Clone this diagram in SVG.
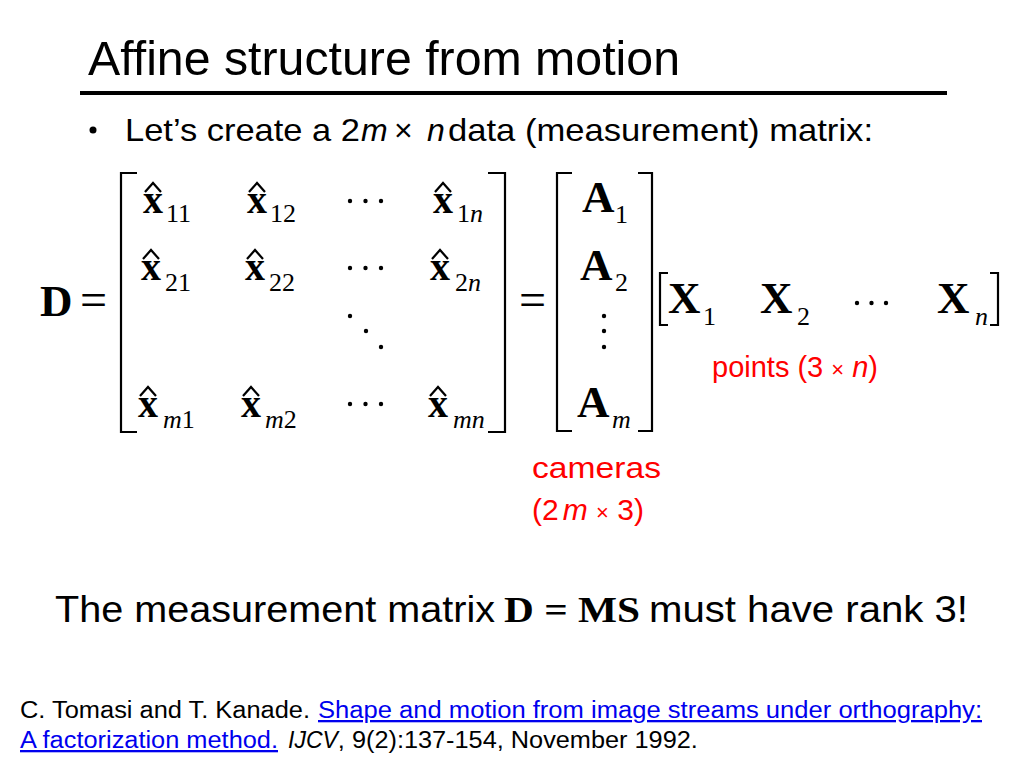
<svg xmlns="http://www.w3.org/2000/svg" width="1024" height="768" viewBox="0 0 1024 768">
<defs>
<path id="hat" d="M-8,9 L0,0 L8,9" fill="none" stroke="#000" stroke-width="2.2" stroke-linejoin="miter"/>
</defs>
<style>
.sans{font-family:"Liberation Sans",Arial,sans-serif;}
.ser{font-family:"Liberation Serif","Times New Roman",serif;}
.bx{font-family:"Liberation Serif","Times New Roman",serif;font-weight:bold;font-size:40px;}
.bc{font-family:"Liberation Serif","Times New Roman",serif;font-weight:bold;font-size:45px;}
.sub{font-family:"Liberation Serif","Times New Roman",serif;font-size:26px;}
.it{font-style:italic;}
.br{fill:none;stroke:#000;stroke-width:2.2;}
.red{fill:#FF0000;}
.link{fill:#0000EE;text-decoration:underline;}
</style>
<rect width="1024" height="768" fill="#fff"/>
<g id="title">
<text class="sans" x="88" y="75" font-size="49" textLength="592" lengthAdjust="spacingAndGlyphs">Affine structure from motion</text>
<rect x="80" y="91" width="867" height="4" fill="#000"/>
</g>
<g id="bullet">
<circle cx="93" cy="130" r="3.5" fill="#000"/>
<text class="sans" x="125" y="141" font-size="32"><tspan textLength="235" lengthAdjust="spacingAndGlyphs">Let’s create a 2</tspan><tspan class="it" x="361">m</tspan><tspan x="394">×</tspan><tspan class="it" x="427">n</tspan><tspan x="448" textLength="425" lengthAdjust="spacingAndGlyphs">data (measurement) matrix:</tspan></text>
</g>
<g id="matrix-D">
<text class="bc" x="40" y="316">D</text>
<text class="ser" x="80" y="316" font-size="48">=</text>
<path class="br" d="M137,173 H121 V432 H137"/>
<path class="br" d="M488,173 H505 V432 H488"/>
<!-- row 1 -->
<text class="bx" x="143" y="213">x</text><use href="#hat" x="153" y="183"/><text class="sub" x="166" y="222">11</text>
<text class="bx" x="247" y="213">x</text><use href="#hat" x="257" y="183"/><text class="sub" x="270" y="222">12</text>
<g fill="#000"><circle cx="350" cy="201" r="2.2"/><circle cx="365.5" cy="201" r="2.2"/><circle cx="381" cy="201" r="2.2"/></g>
<text class="bx" x="433" y="213">x</text><use href="#hat" x="443" y="183"/><text class="sub" x="457" y="222">1<tspan class="it">n</tspan></text>
<!-- row 2 -->
<text class="bx" x="141" y="280">x</text><use href="#hat" x="151" y="250"/><text class="sub" x="165" y="291">21</text>
<text class="bx" x="245" y="280">x</text><use href="#hat" x="255" y="250"/><text class="sub" x="269" y="291">22</text>
<g fill="#000"><circle cx="350" cy="268" r="2.2"/><circle cx="365.5" cy="268" r="2.2"/><circle cx="381" cy="268" r="2.2"/></g>
<text class="bx" x="430" y="280">x</text><use href="#hat" x="440" y="250"/><text class="sub" x="455" y="291">2<tspan class="it">n</tspan></text>
<!-- ddots -->
<g fill="#000"><circle cx="350" cy="316" r="2.2"/><circle cx="366" cy="331" r="2.2"/><circle cx="381" cy="347" r="2.2"/></g>
<!-- row m -->
<text class="bx" x="138" y="417">x</text><use href="#hat" x="148" y="387"/><text class="sub it" x="163" y="428">m<tspan font-style="normal">1</tspan></text>
<text class="bx" x="241" y="417">x</text><use href="#hat" x="251" y="387"/><text class="sub it" x="265" y="428">m<tspan font-style="normal">2</tspan></text>
<g fill="#000"><circle cx="350" cy="404" r="2.2"/><circle cx="365.5" cy="404" r="2.2"/><circle cx="381" cy="404" r="2.2"/></g>
<text class="bx" x="428" y="417">x</text><use href="#hat" x="438" y="387"/><text class="sub it" x="453" y="428">mn</text>
</g>
<g id="matrix-A">
<text class="ser" x="519" y="316" font-size="48">=</text>
<path class="br" d="M572,173 H557 V431 H572"/>
<path class="br" d="M638,173 H652 V431 H638"/>
<text class="bc" x="582" y="212">A</text><text class="sub" x="615" y="223">1</text>
<text class="bc" x="580" y="280">A</text><text class="sub" x="615" y="291">2</text>
<g fill="#000"><circle cx="604" cy="316" r="2.2"/><circle cx="604" cy="331" r="2.2"/><circle cx="604" cy="347" r="2.2"/></g>
<text class="bc" x="577" y="417">A</text><text class="sub it" x="612" y="428">m</text>
</g>
<g id="matrix-X">
<path class="br" d="M668,273 H660 V325 H668"/>
<path class="br" d="M990,273 H998 V325 H990"/>
<text class="bc" x="668" y="313">X</text><text class="sub" x="703" y="325">1</text>
<text class="bc" x="760" y="313">X</text><text class="sub" x="797" y="325">2</text>
<g fill="#000"><circle cx="857" cy="303" r="2.2"/><circle cx="871.5" cy="303" r="2.2"/><circle cx="886" cy="303" r="2.2"/></g>
<text class="bc" x="937" y="313">X</text><text class="sub it" x="975" y="325">n</text>
</g>
<g id="labels">
<text class="sans red" x="712" y="377" font-size="29">points (3 <tspan font-size="22">×</tspan> <tspan class="it">n</tspan>)</text>
<text class="sans red" x="532" y="478" font-size="30" textLength="129" lengthAdjust="spacingAndGlyphs">cameras</text>
<text class="sans red" x="532" y="520" font-size="30">(2<tspan class="it" dx="4">m</tspan> <tspan font-size="22">×</tspan> 3)</text>
</g>
<g id="statement">
<text class="sans" x="55" y="622" font-size="36"><tspan textLength="440" lengthAdjust="spacingAndGlyphs">The measurement matrix</tspan><tspan class="ser" font-weight="bold" x="504" textLength="136" lengthAdjust="spacingAndGlyphs">D = MS</tspan><tspan x="649" textLength="319" lengthAdjust="spacingAndGlyphs">must have rank 3!</tspan></text>
</g>
<g id="citation">
<text class="sans" x="20" y="718" font-size="23"><tspan textLength="290" lengthAdjust="spacingAndGlyphs">C. Tomasi and T. Kanade.</tspan><tspan class="link" x="318" textLength="664" lengthAdjust="spacingAndGlyphs">Shape and motion from image streams under orthography:</tspan></text>
<text class="sans" x="20" y="748" font-size="23"><tspan class="link" textLength="258" lengthAdjust="spacingAndGlyphs">A factorization method.</tspan><tspan class="it" x="288">IJCV</tspan><tspan textLength="360" lengthAdjust="spacingAndGlyphs">, 9(2):137-154, November 1992.</tspan></text>
</g>
</svg>
